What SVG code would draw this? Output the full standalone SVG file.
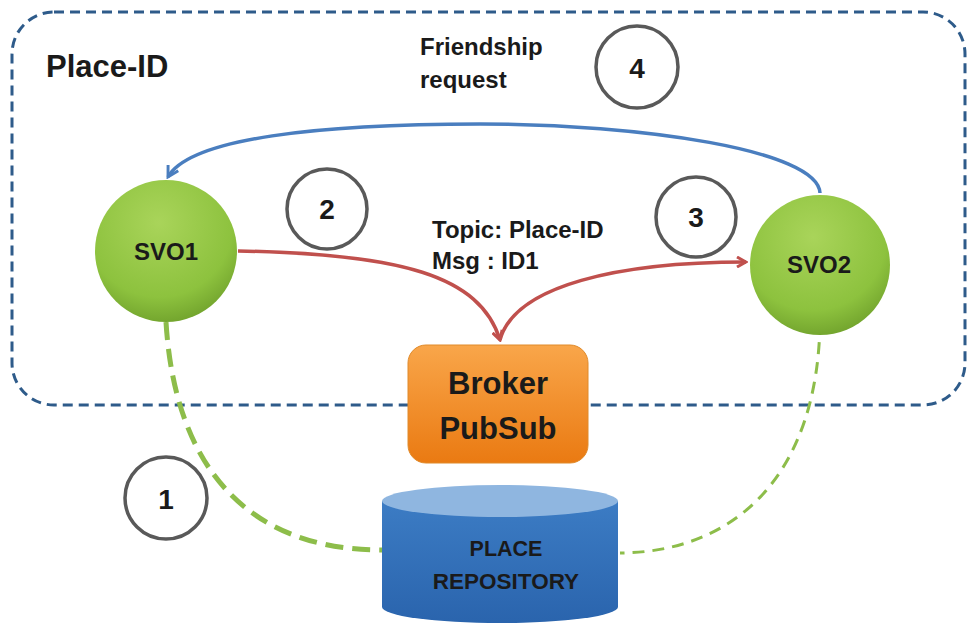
<svg xmlns="http://www.w3.org/2000/svg" width="968" height="623" viewBox="0 0 968 623">
<defs>
<radialGradient id="gG" cx="0.45" cy="0.3" r="0.75">
<stop offset="0" stop-color="#a9d45a"/>
<stop offset="0.7" stop-color="#8dc23e"/>
<stop offset="1" stop-color="#6d9e2a"/>
</radialGradient>
<linearGradient id="oG" x1="0" y1="0" x2="0" y2="1">
<stop offset="0" stop-color="#f9a64a"/>
<stop offset="1" stop-color="#ea7a12"/>
</linearGradient>
<linearGradient id="bG" x1="0" y1="0" x2="0" y2="1">
<stop offset="0" stop-color="#3c7cc4"/>
<stop offset="1" stop-color="#2a64ad"/>
</linearGradient>
<marker id="aR" viewBox="0 0 12 12" refX="10" refY="6" markerWidth="12" markerHeight="12" markerUnits="userSpaceOnUse" orient="auto">
<path d="M1 1 L10 6 L1 11" fill="none" stroke="#c0504d" stroke-width="3"/>
</marker>
<marker id="aB" viewBox="0 0 12 12" refX="10" refY="6" markerWidth="14" markerHeight="14" markerUnits="userSpaceOnUse" orient="auto">
<path d="M1 1 L10 6 L1 11" fill="none" stroke="#4a7ebf" stroke-width="2.5"/>
</marker>
</defs>
<style>
.t{font-family:"Liberation Sans",Arial,sans-serif;font-weight:bold;fill:#1a1a1a}
.badge{fill:#fff;stroke:#595959;stroke-width:3.5}
</style>
<rect width="968" height="623" fill="#fff"/>
<rect x="12" y="12" width="953" height="393" rx="42" fill="none" stroke="#2e5b8a" stroke-width="3" stroke-dasharray="10,6"/>
<text class="t" x="46" y="77" font-size="31">Place-ID</text>
<g id="connectors" fill="none">
<path d="M820 193 C818 150 640 124 480 124 C320 124 190 138 168 177" stroke="#4a7ebf" stroke-width="3.5" marker-end="url(#aB)"/>
<path d="M238 251 C400 254 480 275 500 340" stroke="#c0504d" stroke-width="3.5" marker-end="url(#aR)"/>
<path d="M500 340 C515 285 620 262 746 262" stroke="#c0504d" stroke-width="3.5" marker-end="url(#aR)"/>
<path d="M166 322 C175 470 250 550 382 550" stroke="#8dbd4a" stroke-width="5" stroke-dasharray="18,9"/>
<path d="M820 322 C818 470 740 552 620 553" stroke="#8dbd4a" stroke-width="3" stroke-dasharray="12,8"/>
</g>
<g id="svo1">
<circle cx="166" cy="251" r="71" fill="url(#gG)"/>
<text class="t" x="166" y="260" font-size="24" text-anchor="middle">SVO1</text>
</g>
<g id="svo2">
<circle cx="820" cy="265" r="70" fill="url(#gG)"/>
<text class="t" x="819" y="273" font-size="24" text-anchor="middle">SVO2</text>
</g>
<g id="broker">
<rect x="408" y="345" width="180" height="118" rx="18" fill="url(#oG)" stroke="#e08a2a" stroke-width="1"/>
<text class="t" x="498" y="394" font-size="31" text-anchor="middle">Broker</text>
<text class="t" x="498" y="439" font-size="31" text-anchor="middle">PubSub</text>
</g>
<g id="repository">
<path d="M382 501 L382 607 A118 16 0 0 0 618 607 L618 501 Z" fill="url(#bG)"/>
<ellipse cx="500" cy="501" rx="118" ry="16" fill="#8fb6e0"/>
<text class="t" x="506" y="556" font-size="21.5" text-anchor="middle">PLACE</text>
<text class="t" x="506" y="589" font-size="22.5" text-anchor="middle">REPOSITORY</text>
</g>
<g id="labels">
<text class="t" x="420" y="55" font-size="24">Friendship</text>
<text class="t" x="420" y="88" font-size="24">request</text>
<text class="t" x="432" y="238" font-size="24">Topic: Place-ID</text>
<text class="t" x="432" y="269" font-size="24">Msg : ID1</text>
</g>
<g id="badge1"><circle class="badge" cx="166" cy="498" r="41"/><text class="t" x="166" y="509" font-size="28" text-anchor="middle">1</text></g>
<g id="badge2"><circle class="badge" cx="327" cy="209" r="40"/><text class="t" x="327" y="219" font-size="28" text-anchor="middle">2</text></g>
<g id="badge3"><circle class="badge" cx="696" cy="217" r="40"/><text class="t" x="696" y="227" font-size="28" text-anchor="middle">3</text></g>
<g id="badge4"><circle class="badge" cx="637" cy="67" r="41"/><text class="t" x="637" y="78" font-size="28" text-anchor="middle">4</text></g>
</svg>
